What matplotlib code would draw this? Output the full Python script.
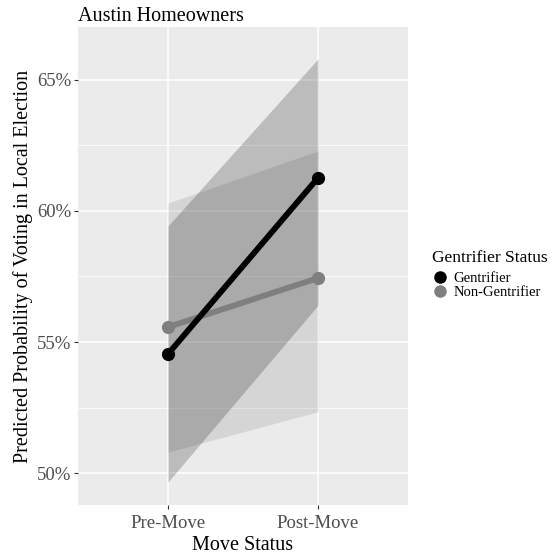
import numpy as np
import matplotlib.pyplot as plt
from matplotlib.lines import Line2D
from matplotlib.ticker import FuncFormatter

plt.rcParams['font.family'] = ['Liberation Serif', 'DejaVu Serif']

moves = ['Pre-Move', 'Post-Move']
groups = ['Gentrifier', 'Non-Gentrifier']
gent = [0.5454, 0.6126]
gent_lo = [0.4966, 0.5640]
gent_hi = [0.5943, 0.6580]
nongent = [0.5557, 0.5744]
nongent_lo = [0.5080, 0.5234]
nongent_hi = [0.6030, 0.6229]

colors = ['black', '#7f7f7f']

fig = plt.figure(figsize=(5.52, 5.54), dpi=100)
ax = fig.add_axes([0.1413, 0.0884, 0.5977, 0.8629])
ax.set_facecolor('#EBEBEB')

x = np.arange(1, len(moves) + 1)
ax.fill_between(x, nongent_lo, nongent_hi, color=colors[1], alpha=0.2, lw=0)
ax.fill_between(x, gent_lo, gent_hi, color=colors[0], alpha=0.2, lw=0)
ax.plot(x, gent, color=colors[0], lw=4.2, marker='o', ms=8.5, solid_capstyle='butt', zorder=4)
ax.plot(x, nongent, color=colors[1], lw=4.2, marker='o', ms=8.5, solid_capstyle='butt', zorder=3)

ax.set_xlim(0.4, 2.6)
ax.set_ylim(0.4878, 0.6702)
ax.set_xticks(x)
ax.set_xticklabels(moves)
ax.set_yticks([0.50, 0.55, 0.60, 0.65])
ax.yaxis.set_major_formatter(FuncFormatter(lambda v, p: f'{v * 100:.0f}%'))
ax.set_yticks([0.525, 0.575, 0.625], minor=True)
ax.set_xticks([], minor=True)

ax.grid(which='major', color='white', lw=1.1)
ax.grid(which='minor', axis='y', color='white', lw=0.55)
ax.set_axisbelow(True)
for s in ax.spines.values():
    s.set_visible(False)
ax.tick_params(axis='both', which='major', length=3, width=0.8, color='#333333',
               labelsize=13.5, labelcolor='#4D4D4D', pad=2)
ax.tick_params(axis='x', which='major', pad=4)
ax.tick_params(axis='y', which='minor', length=0)

ax.set_xlabel('Move Status', fontsize=14.5, labelpad=3)
ax.set_ylabel('Predicted Probability of Voting in Local Election', fontsize=14.5, labelpad=3)
ax.set_title('Austin Homeowners', loc='left', fontsize=14.5, pad=4)

handles = [Line2D([], [], ls='', marker='o', ms=8, color=c) for c in colors]
leg = fig.legend(handles, groups, title='Gentrifier Status', loc='upper left',
                 bbox_to_anchor=(0.782, 1 - 250 / 554), frameon=False, fontsize=10.5,
                 title_fontsize=12.5, handletextpad=0.3, labelspacing=0.05,
                 handlelength=1.2, borderaxespad=0, borderpad=0)
leg._legend_box.align = 'left'
leg._legend_box.sep = 4

fig.savefig('out.png', dpi=100)
